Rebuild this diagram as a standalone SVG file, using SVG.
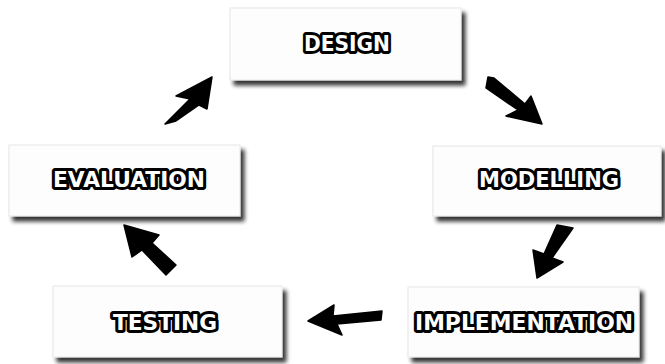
<svg xmlns="http://www.w3.org/2000/svg" width="665" height="364" viewBox="0 0 665 364">
<defs>
<filter id="sh" x="-10%" y="-20%" width="130%" height="150%">
<feGaussianBlur in="SourceAlpha" stdDeviation="2"/>
<feOffset dx="4" dy="5" result="b"/>
<feComponentTransfer><feFuncA type="linear" slope="0.8"/></feComponentTransfer>
<feMerge><feMergeNode/><feMergeNode in="SourceGraphic"/></feMerge>
</filter>
<style>
.box{fill:#fdfdfd;stroke:#e6e6e6;stroke-width:1;filter:url(#sh)}
.lbl{font-family:"DejaVu Sans",sans-serif;font-weight:bold;font-size:21px;fill:#fff;stroke:#000;stroke-width:6;stroke-linejoin:round;paint-order:stroke;text-anchor:middle;dominant-baseline:central}
.arr{fill:#000;stroke:#000;stroke-width:1.5;stroke-linejoin:round}
</style>
</defs>
<rect width="665" height="364" fill="#fff"/>
<g id="design"><rect class="box" x="230" y="8" width="231" height="72"/><text class="lbl" x="347" y="44" textLength="86" lengthAdjust="spacingAndGlyphs">DESIGN</text></g>
<g id="modelling"><rect class="box" x="433" y="146" width="228" height="70"/><text class="lbl" x="549" y="180" textLength="140" lengthAdjust="spacingAndGlyphs">MODELLING</text></g>
<g id="implementation"><rect class="box" x="408" y="287" width="231" height="70"/><text class="lbl" x="524" y="323" textLength="218" lengthAdjust="spacingAndGlyphs">IMPLEMENTATION</text></g>
<g id="testing"><rect class="box" x="53" y="286" width="229" height="71"/><text class="lbl" x="165" y="323" textLength="104" lengthAdjust="spacingAndGlyphs">TESTING</text></g>
<g id="evaluation"><rect class="box" x="9" y="145" width="231" height="71"/><text class="lbl" x="129" y="180" textLength="152" lengthAdjust="spacingAndGlyphs">EVALUATION</text></g>
<g id="connectors">
<polygon class="arr" points="212,77 176,96 190,99 165,124 176,121 199,105 207,109"/>
<polygon class="arr" points="488,77 494,78 525,104 531,96 542,124 506,116 518,110 486,88"/>
<polygon class="arr" points="557,225 573,228 552,258 563,262 537,278 533,250 544,254"/>
<polygon class="arr" points="308,321 334,305 333,316 382,311 381,320 337,324 342,335"/>
<polygon class="arr" points="124,225 159,235 152,243 176,265 166,275 142,250 132,257"/>
</g>
</svg>
